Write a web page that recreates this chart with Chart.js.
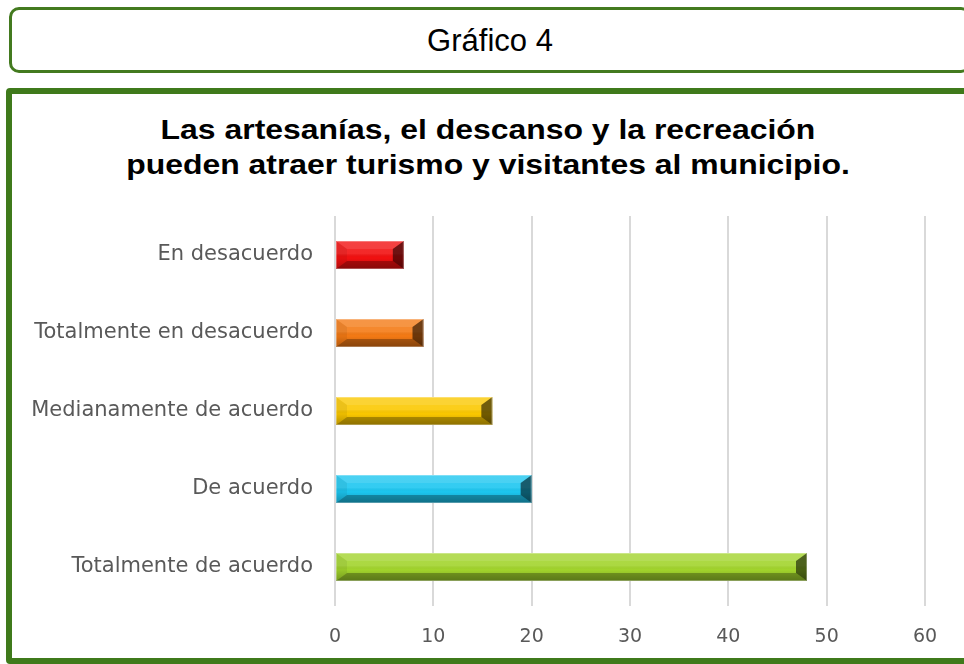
<!DOCTYPE html>
<html>
<head>
<meta charset="utf-8">
<script src="https://cdn.jsdelivr.net/npm/chart.js@4"></script>
<style>
  body { margin: 0; background: #fff; overflow: hidden; }
  #header {
    position: absolute; left: 9px; top: 7px; width: 956px; height: 60px;
    border: 3px solid #437a1f; border-radius: 10px;
    font-family: "Liberation Sans", Arial, sans-serif; font-size: 31px;
    text-align: center; line-height: 62px; color: #000;
  }
  #frame {
    position: absolute; left: 6px; top: 88px; width: 990px; height: 564px;
    border: 6px solid #3f7a1b; border-radius: 4px;
  }
  #title {
    position: absolute; left: 12px; width: 952px; top: 112px;
    font-family: "Liberation Sans", Arial, sans-serif; font-weight: bold;
    font-size: 28px; line-height: 35px; text-align: center; color: #000;
  }
  #title div { transform: scaleX(1.14); }
  #wrap { position: absolute; left: 0; top: 0; width: 964px; height: 664px; }
</style>
</head>
<body>
<div id="header">Gráfico 4</div>
<div id="frame"></div>
<div id="title"></div>
<div id="wrap"><canvas id="chart"></canvas></div>
<script>
// Chart data
const categories = ['En desacuerdo', 'Totalmente en desacuerdo', 'Medianamente de acuerdo', 'De acuerdo', 'Totalmente de acuerdo'];
const values = [7, 9, 16, 20, 48];
const barColors = ['#f21010', '#f47a14', '#fbc800', '#1cc6f0', '#a2d42c'];
const xTicks = [0, 10, 20, 30, 40, 50, 60];
const titleLines = ['Las artesanías, el descanso y la recreación', 'pueden atraer turismo y visitantes al municipio.'];

document.getElementById('title').innerHTML = titleLines.map(t => '<div>' + t + '</div>').join('');

// bevel look for the bars, drawn over each bar element
const bevelPlugin = {
  id: 'bevel',
  afterDatasetsDraw(chart) {
    const ctx = chart.ctx;
    const meta = chart.getDatasetMeta(0);
    meta.data.forEach(bar => {
      const p = bar.getProps(['x', 'y', 'base', 'height'], true);
      const x0 = Math.min(p.base, p.x), x1 = Math.max(p.base, p.x);
      const y0 = p.y - p.height / 2, y1 = p.y + p.height / 2;
      const bw = 11, bh = 8;
      ctx.save();
      const g = ctx.createLinearGradient(0, y0, 0, y1);
      g.addColorStop(0, 'rgba(255,255,255,0.12)');
      g.addColorStop(0.45, 'rgba(255,255,255,0.1)');
      g.addColorStop(0.6, 'rgba(0,0,0,0.0)');
      g.addColorStop(1, 'rgba(0,0,0,0.22)');
      ctx.fillStyle = g;
      ctx.fillRect(x0, y0, x1 - x0, y1 - y0);
      const poly = (pts, fill) => {
        ctx.beginPath();
        ctx.moveTo(pts[0][0], pts[0][1]);
        pts.slice(1).forEach(q => ctx.lineTo(q[0], q[1]));
        ctx.closePath();
        ctx.fillStyle = fill;
        ctx.fill();
      };
      poly([[x0, y0], [x1, y0], [x1 - bw, y0 + bh], [x0 + bw, y0 + bh]], 'rgba(255,255,255,0.1)');
      poly([[x0, y1], [x1, y1], [x1 - bw, y1 - bh], [x0 + bw, y1 - bh]], 'rgba(0,0,0,0.28)');
      poly([[x0, y0], [x0 + bw, y0 + bh], [x0 + bw, y1 - bh], [x0, y1]], 'rgba(0,0,0,0.06)');
      poly([[x1, y0], [x1 - bw, y0 + bh], [x1 - bw, y1 - bh], [x1, y1]], 'rgba(0,0,0,0.55)');
      ctx.strokeStyle = 'rgba(255,255,255,0.3)';
      ctx.lineWidth = 1;
      ctx.strokeRect(x0 + 0.5, y0 + 0.5, x1 - x0 - 1, y1 - y0 - 1);
      ctx.restore();
    });
  }
};

new Chart(document.getElementById('chart'), {
  type: 'bar',
  data: {
    labels: categories,
    datasets: [{
      data: values,
      backgroundColor: barColors,
      borderWidth: 0,
      barPercentage: 0.6,
      categoryPercentage: 0.6
    }]
  },
  options: {
    indexAxis: 'y',
    responsive: true,
    maintainAspectRatio: false,
    animation: false,
    layout: { padding: { left: 12, right: 39, top: 216, bottom: 0 } },
    plugins: {
      legend: { display: false },
      tooltip: { enabled: false },
      title: { display: false }
    },
    scales: {
      x: {
        min: 0,
        max: 60,
        afterBuildTicks(scale) { scale.ticks = xTicks.map(v => ({ value: v })); },
        afterFit(scale) { scale.height = 58; },
        border: { display: false },
        grid: { color: '#d9d9d9', lineWidth: 2, drawTicks: false },
        ticks: { color: '#595959', font: { family: '"DejaVu Sans", sans-serif', size: 19 }, padding: 20 }
      },
      y: {
        afterFit(scale) { scale.width = 323; },
        border: { display: false },
        grid: { display: false, drawTicks: false },
        ticks: { color: '#595959', font: { family: '"DejaVu Sans", sans-serif', size: 21 }, padding: 22 }
      }
    }
  },
  plugins: [bevelPlugin]
});
</script>
</body>
</html>
